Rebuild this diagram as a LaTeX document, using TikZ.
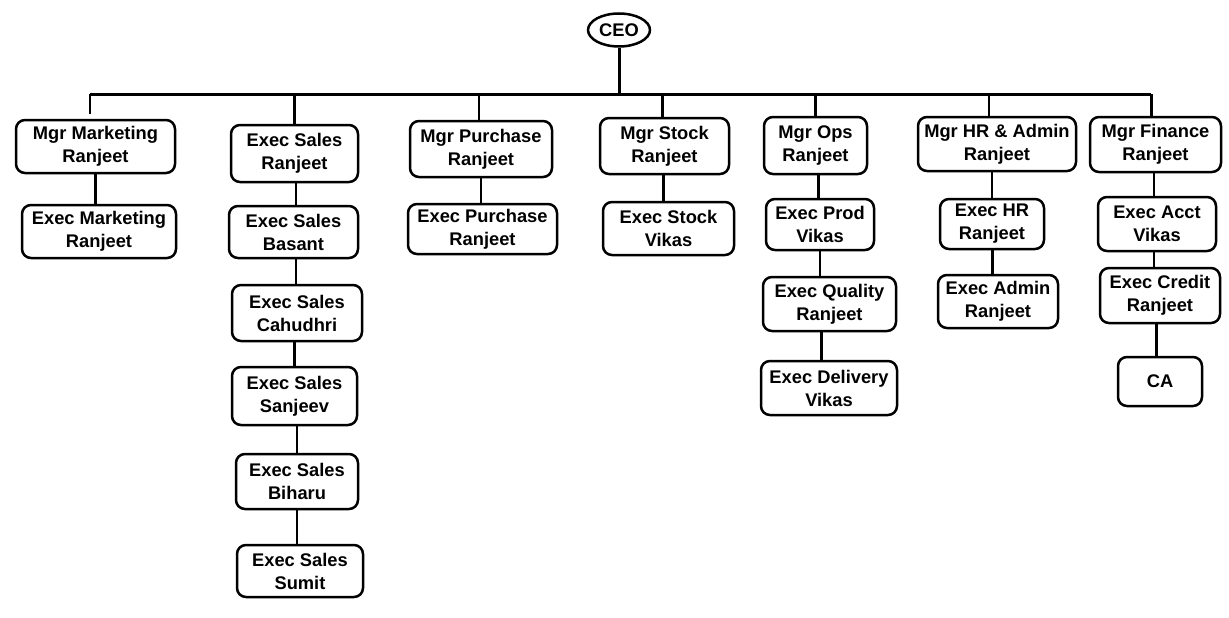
\documentclass[tikz,border=0pt]{standalone}
\usepackage{fontspec}
\setmainfont{Liberation Sans}
\usetikzlibrary{shapes.geometric}
\begin{document}
\begin{tikzpicture}[x=1pt,y=-1pt,
  box/.style={draw, line width=2.5pt, rounded corners=9pt, align=center, inner sep=0pt,
    font=\bfseries\fontsize{18.3}{23}\selectfont},
  link/.style={line width=2.2pt},
  bus/.style={line width=3pt}]
\useasboundingbox (0,0) rectangle (1229,618);
\node[draw, ellipse, line width=2.5pt, minimum width=62pt, minimum height=33pt, inner sep=0pt,
  font=\bfseries\fontsize{18.3}{23}\selectfont] (ceo) at (619,30) {CEO};
% level 1
\node[box, minimum width=159pt, minimum height=53pt] (mkt) at (95.5,146.5) {Mgr Marketing\\Ranjeet};
\node[box, minimum width=127pt, minimum height=57pt] (es1) at (294.5,153.5) {Exec Sales\\Ranjeet};
\node[box, minimum width=142pt, minimum height=56pt] (pur) at (481,149) {Mgr Purchase\\Ranjeet};
\node[box, minimum width=129pt, minimum height=56pt] (stk) at (664.5,146) {Mgr Stock\\Ranjeet};
\node[box, minimum width=103pt, minimum height=57pt] (ops) at (815.5,145.5) {Mgr Ops\\Ranjeet};
\node[box, minimum width=158pt, minimum height=54pt] (hr) at (997,144) {Mgr HR \& Admin\\Ranjeet};
\node[box, minimum width=131pt, minimum height=55pt] (fin) at (1155.5,144.5) {Mgr Finance\\Ranjeet};
% lower levels
\node[box, minimum width=154pt, minimum height=53pt] (emkt) at (99,231.5) {Exec Marketing\\Ranjeet};
\node[box, minimum width=129pt, minimum height=52pt] (es2) at (293.5,232) {Exec Sales\\Basant};
\node[box, minimum width=130pt, minimum height=56pt] (es3) at (297,313) {Exec Sales\\Cahudhri};
\node[box, minimum width=125pt, minimum height=58pt] (es4) at (294.5,396) {Exec Sales\\Sanjeev};
\node[box, minimum width=122pt, minimum height=55pt] (es5) at (297,481.5) {Exec Sales\\Biharu};
\node[box, minimum width=126pt, minimum height=52pt] (es6) at (300,571) {Exec Sales\\Sumit};
\node[box, minimum width=149pt, minimum height=50pt] (epur) at (482.5,229) {Exec Purchase\\Ranjeet};
\node[box, minimum width=131pt, minimum height=53pt] (estk) at (668.5,228.5) {Exec Stock\\Vikas};
\node[box, minimum width=108pt, minimum height=51pt] (eprod) at (820,224.5) {Exec Prod\\Vikas};
\node[box, minimum width=133pt, minimum height=54pt] (equal) at (829.5,304) {Exec Quality\\Ranjeet};
\node[box, minimum width=136pt, minimum height=54pt] (edel) at (829,388) {Exec Delivery\\Vikas};
\node[box, minimum width=104pt, minimum height=50pt] (ehr) at (992,224) {Exec HR\\Ranjeet};
\node[box, minimum width=120pt, minimum height=53pt] (eadm) at (998,301.5) {Exec Admin\\Ranjeet};
\node[box, minimum width=118pt, minimum height=54pt] (eacct) at (1157,224) {Exec Acct\\Vikas};
\node[box, minimum width=120pt, minimum height=55pt] (ecred) at (1160,295.5) {Exec Credit\\Ranjeet};
\node[box, minimum width=84pt, minimum height=49pt] (ca) at (1160,381.5) {CA};
% bus
\coordinate (busL) at (90,94);
\coordinate (busR) at (1151,94);
\draw[bus] (ceo.south) -- (ceo.south |- busL);
\draw[bus] (busL) -- (busR);
\draw[link, shorten >=5pt] (busL) -- (busL |- mkt.north);
\draw[link] (es1.north |- busL) -- (es1.north);
\draw[link] ([xshift=-2pt]pur.north |- busL) -- ([xshift=-2pt]pur.north);
\draw[link] ([xshift=-2pt]stk.north |- busL) -- ([xshift=-2pt]stk.north);
\draw[link] (ops.north |- busL) -- (ops.north);
\draw[link] ([xshift=-8pt]hr.north |- busL) -- ([xshift=-8pt]hr.north);
\draw[bus] (busR) -- (busR |- fin.north);
% chains
\draw[link] (mkt.south) -- (mkt.south |- emkt.north);
\draw[link] ([xshift=1.5pt]es1.south) -- ([xshift=1.5pt]es1.south |- es2.north);
\draw[link] ([xshift=2.5pt]es2.south) -- ([xshift=2.5pt]es2.south |- es3.north);
\draw[link] (es4.north |- es3.south) -- (es4.north);
\draw[link] (es5.north |- es4.south) -- (es5.north);
\draw[link] (es5.south) -- (es5.south |- es6.north);
\draw[link] (pur.south) -- (pur.south |- epur.north);
\draw[link] ([xshift=-1pt]stk.south) -- ([xshift=-1pt]stk.south |- estk.north);
\draw[link] ([xshift=3pt]ops.south) -- ([xshift=3pt]ops.south |- eprod.north);
\draw[link] (eprod.south) -- (eprod.south |- equal.north);
\draw[link] ([xshift=-8pt]equal.south) -- ([xshift=-8pt]equal.south |- edel.north);
\draw[link] (ehr.north |- hr.south) -- (ehr.north);
\draw[bus] (ehr.south) -- (ehr.south |- eadm.north);
\draw[link] ([xshift=-1.5pt]fin.south) -- ([xshift=-1.5pt]fin.south |- eacct.north);
\draw[link] ([xshift=-3pt]eacct.south) -- ([xshift=-3pt]eacct.south |- ecred.north);
\draw[bus] ([xshift=-4pt]ecred.south) -- ([xshift=-4pt]ecred.south |- ca.north);
\end{tikzpicture}
\end{document}
